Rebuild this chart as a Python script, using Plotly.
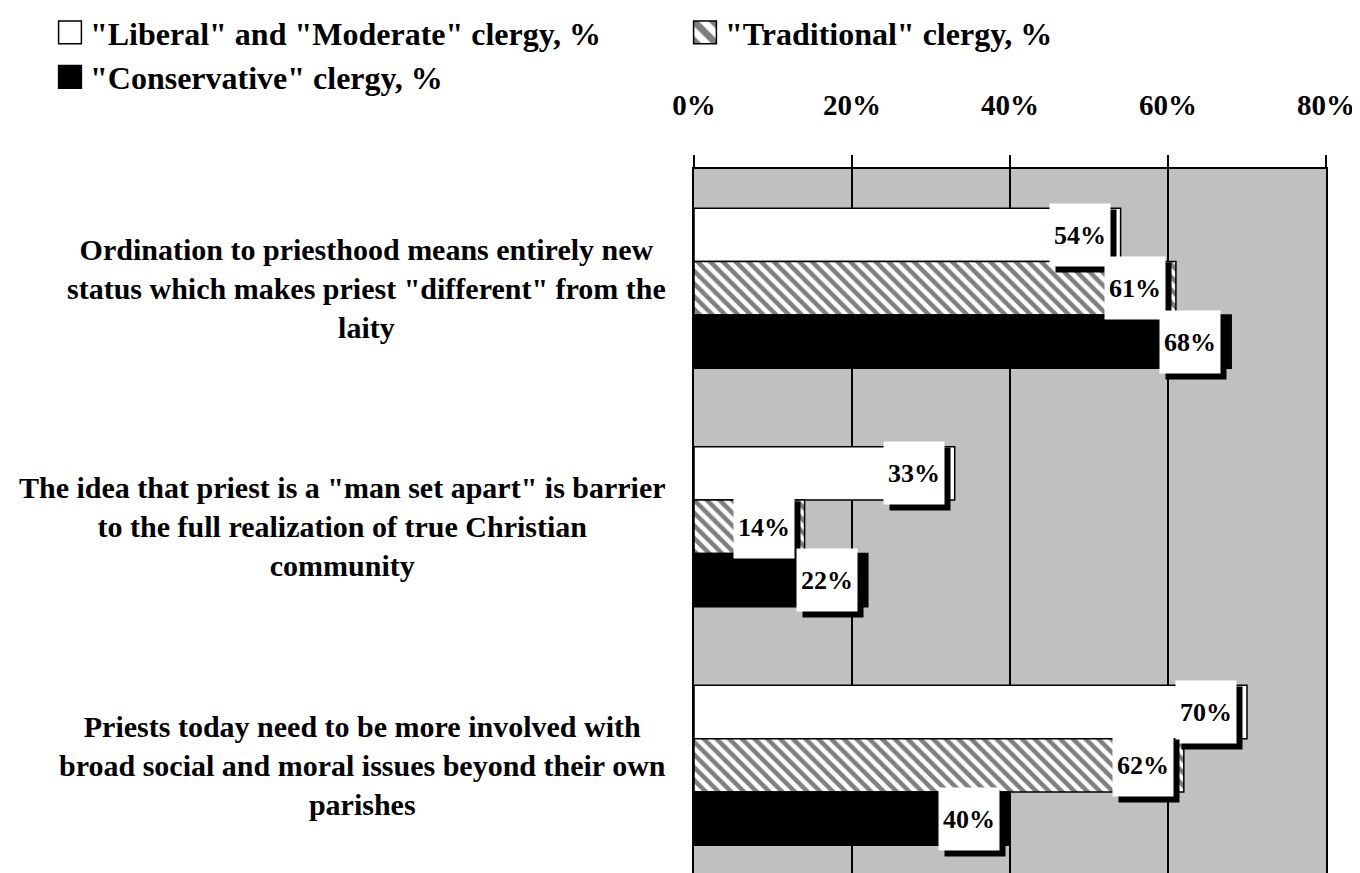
import plotly.graph_objects as go

# data
categories = [
    "Ordination to priesthood means entirely new<br>status which makes priest \"different\" from the<br>laity",
    "The idea that priest is a \"man set apart\" is barrier<br>to the full realization of true Christian<br>community",
    "Priests today need to be more involved with<br>broad social and moral issues beyond their own<br>parishes",
]
series_names = [
    "\"Liberal\" and \"Moderate\" clergy, %",
    "\"Traditional\" clergy, %",
    "\"Conservative\" clergy, %",
]
liberal = [54, 33, 70]
traditional = [61, 14, 62]
conservative = [68, 22, 40]
x_ticks = [0, 20, 40, 60, 80]

FONT = "Palatino Linotype, Book Antiqua, Palatino, Liberation Serif, serif"
GRAY = "#c0c0c0"

positions = list(range(len(categories)))
bar_w = 0.2236
series = [liberal, traditional, conservative]
styles = [
    dict(color="white"),
    dict(color="white", pattern=dict(shape="\\", fgcolor="black", bgcolor="white",
                                     size=9, solidity=0.5)),
    dict(color="black"),
]
# the hatched series sits in its own legend box to the right
legend_ids = ["legend", "legend2", "legend"]

fig = go.Figure()

for k, (name, vals, st) in enumerate(zip(series_names, series, styles)):
    fig.add_trace(
        go.Bar(
            name=name,
            orientation="h",
            x=vals,
            y=positions,
            width=bar_w,
            offset=-1.5 * bar_w + k * bar_w,
            marker=dict(line=dict(color="black", width=1.5), **st),
            legend=legend_ids[k],
            hoverinfo="x",
        )
    )

# value labels: white box with a black drop shadow, sitting on the bar end
annotations = []
for k, vals in enumerate(series):
    for i, v in enumerate(vals):
        yc = positions[i] + (k - 1) * bar_w
        annotations.append(dict(
            x=v, y=yc, xref="x", yref="y", text="", showarrow=False,
            xanchor="right", yanchor="middle", width=60, height=62,
            bgcolor="black", borderpad=0, xshift=-4, yshift=-6,
        ))
        annotations.append(dict(
            x=v, y=yc, xref="x", yref="y", text=f"{v}%", showarrow=False,
            xanchor="right", yanchor="middle", width=60, height=62,
            bgcolor="white", borderpad=0, xshift=-10,
            font=dict(family=FONT, size=26, color="black", weight="bold"),
        ))

# category labels, centred lines, right edge next to the axis
for i, cat in enumerate(categories):
    annotations.append(dict(
        x=0, y=positions[i], xref="paper", yref="y", text=cat, showarrow=False,
        xanchor="right", yanchor="middle", align="center", xshift=-26,
        font=dict(family=FONT, size=30, color="black", weight="bold"),
    ))

legend_style = dict(
    orientation="v",
    xref="container", yref="paper",
    xanchor="left", yanchor="top",
    font=dict(family=FONT, size=32, color="black", weight="bold"),
    traceorder="normal",
    itemclick=False,
    bgcolor="rgba(0,0,0,0)",
)

fig.update_layout(
    width=1360,
    height=873,
    margin=dict(l=686, r=42, t=161, b=0, autoexpand=False),
    paper_bgcolor="white",
    plot_bgcolor=GRAY,
    barmode="overlay",
    annotations=annotations,
    showlegend=True,
    legend=dict(x=42 / 1360, y=1.2303, **legend_style),
    legend2=dict(x=677 / 1360, y=1.2303, **legend_style),
    xaxis=dict(
        side="top",
        range=[0, 80],
        tickvals=x_ticks,
        ticktext=[f"{t}%" for t in x_ticks],
        ticks="outside",
        ticklen=12,
        tickwidth=2,
        tickcolor="black",
        ticklabelstandoff=28,
        showline=True,
        linecolor="black",
        linewidth=2,
        showgrid=True,
        gridcolor="black",
        gridwidth=2,
        zeroline=False,
        automargin=False,
        tickfont=dict(family=FONT, size=29, color="black", weight="bold"),
    ),
    yaxis=dict(
        range=[2.485, -0.5],
        showticklabels=False,
        ticks="",
        showgrid=False,
        zeroline=False,
        showline=True,
        mirror=True,
        linecolor="black",
        linewidth=2,
        automargin=False,
    ),
)

# legend swatches in the original are about twice plotly's default size
enlarge_swatches = """
document.querySelectorAll('.legendpoints path').forEach(function (p) {
    var t = p.getAttribute('transform') || '';
    p.setAttribute('transform', t + ' scale(1.9)');
    p.style.vectorEffect = 'non-scaling-stroke';
});
"""

fig.write_html("out.html", post_script=enlarge_swatches)
